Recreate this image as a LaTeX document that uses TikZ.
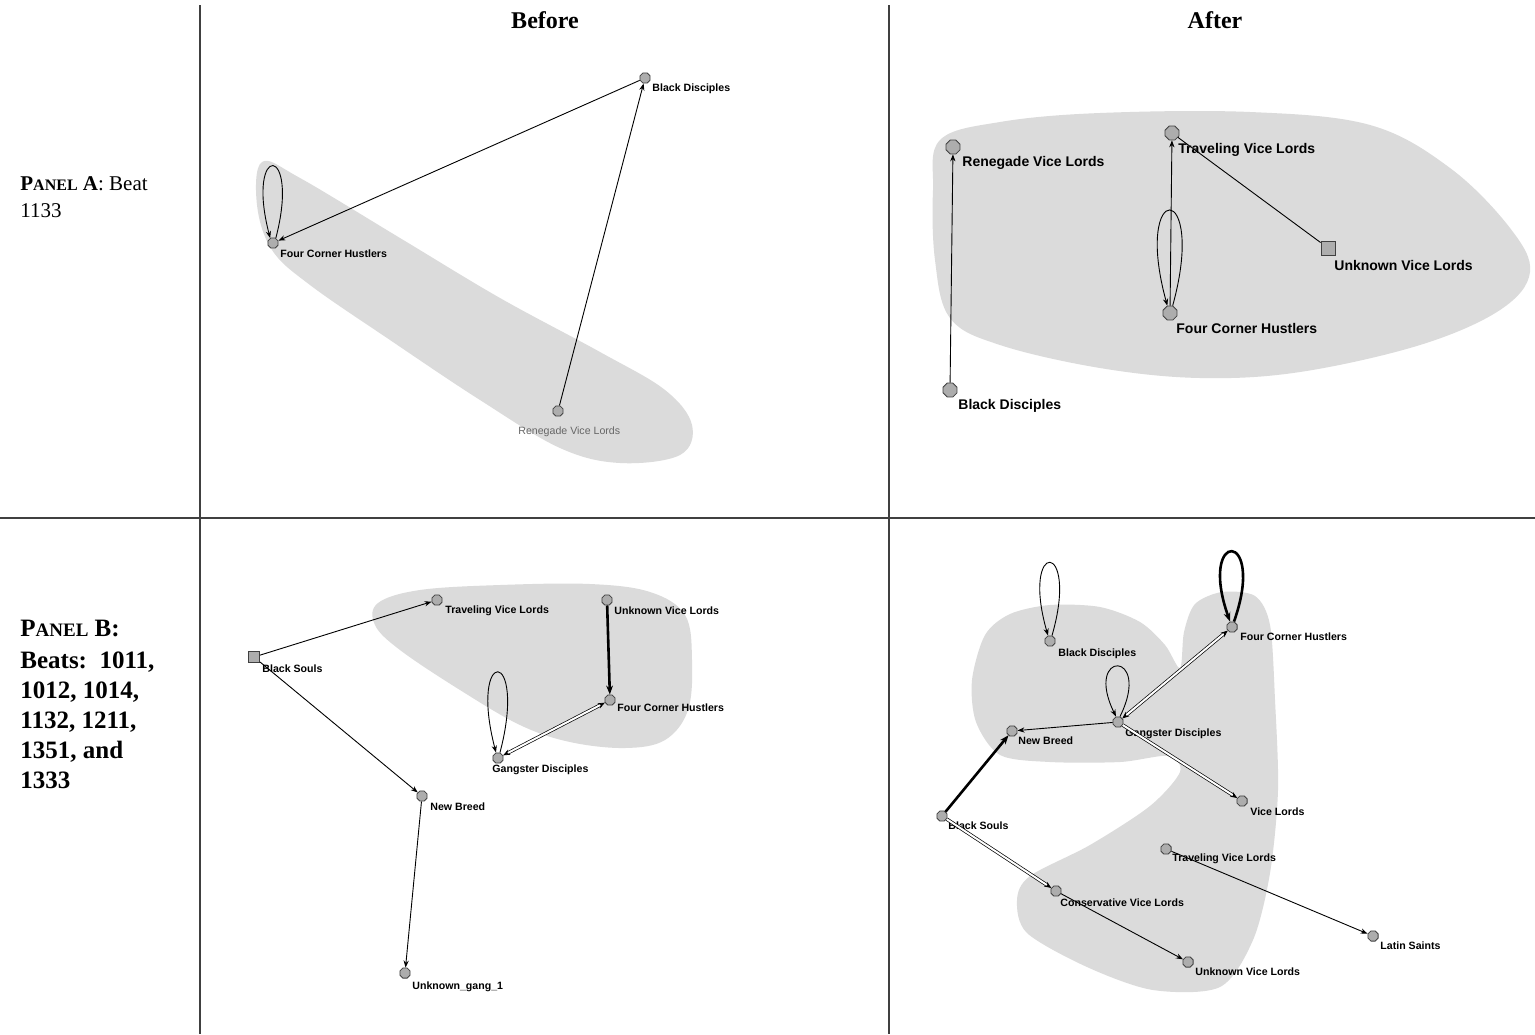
\documentclass[tikz,border=0pt]{standalone}
\usepackage{fontspec}
\setmainfont{Liberation Serif}
\newfontfamily\labfont{Liberation Sans}
\usetikzlibrary{arrows.meta,shapes.geometric}
\begin{document}
\begin{tikzpicture}[x=0.5pt,y=-0.5pt,
  blob/.style={fill=black!14},
  gn/.style={regular polygon, regular polygon sides=8, draw=black!75, fill=black!32, inner sep=0pt, minimum size=#1, line width=0.4pt},
  gn/.default=5.5pt,
  sqn/.style={rectangle, draw=black!75, fill=black!32, inner sep=0pt, minimum size=#1, line width=0.4pt},
  sqn/.default=6pt,
  lab/.style={anchor=west, inner sep=0pt, font=\labfont\bfseries\fontsize{5.3}{6}\selectfont},
  labbig/.style={anchor=west, inner sep=0pt, font=\labfont\bfseries\fontsize{7}{8}\selectfont},
  arr/.style={-{Stealth[length=3.5pt,width=2.6pt]}, line width=0.45pt},
  thk/.style={-{Stealth[length=4.5pt,width=3.4pt]}, line width=1.3pt},
  dbl/.style={{Stealth[length=3.5pt,width=2.8pt]}-{Stealth[length=3.5pt,width=2.8pt]}, double=white, double distance=1pt, line width=0.35pt},
  dbla/.style={-{Stealth[length=3.5pt,width=2.8pt]}, double=white, double distance=1pt, line width=0.35pt},
  tline/.style={draw=black!75, line width=0.7pt},
  hdr/.style={font=\bfseries\fontsize{12}{14}\selectfont, inner sep=0pt},
  pa/.style={anchor=base west, inner sep=0pt, font=\fontsize{10.5}{12}\selectfont},
  pb/.style={anchor=base west, inner sep=0pt, font=\bfseries\fontsize{12.5}{14}\selectfont}
]
\useasboundingbox (0,0) rectangle (1535,1034);
\fill[white] (0,0) rectangle (1535,1034);

% ---------- blobs ----------
\fill[blob] plot[smooth cycle, tension=0.6] coordinates {(262,162) (300,178) (400,238) (500,298) (600,352) (665,390) (692,425) (680,455) (620,463) (560,448) (480,400) (390,340) (310,285) (272,250) (257,205)};
\fill[blob] plot[smooth cycle, tension=0.6] coordinates {(940,140) (1000,122) (1100,113) (1250,112) (1370,125) (1450,168) (1510,228) (1530,272) (1500,310) (1420,345) (1300,372) (1200,378) (1100,368) (1000,345) (950,318) (935,260) (933,190)};
\fill[blob] plot[smooth cycle, tension=0.6] coordinates {(378,603) (420,590) (500,585) (590,584) (650,592) (685,615) (692,660) (688,710) (665,740) (625,748) (570,742) (520,725) (460,690) (400,650) (375,625)};
\fill[blob] plot[smooth cycle, tension=0.5] coordinates {(985,635) (1010,614) (1050,605) (1100,607) (1140,622) (1165,645) (1180,668) (1184,632) (1195,604) (1222,592) (1255,596) (1270,625) (1275,700) (1278,790) (1270,873) (1253,940) (1220,987) (1153,990) (1087,967) (1027,933) (1017,900) (1030,876) (1090,845) (1150,806) (1180,772) (1168,756) (1120,762) (1050,762) (1000,755) (976,722) (972,680)};

% ---------- table ----------
\draw[tline] (200,5) -- (200,1034);
\draw[tline] (889,5) -- (889,1034);
\draw[tline] (0,518) -- (1535,518);

\node[hdr] (hbefore) at (545,20) {Before};
\node[hdr] (hafter) at (1215,20) {After};

\node[pa] (pa1) at (20,190) {\textbf{P{\fontsize{8}{10}\selectfont ANEL} A}: Beat};
\node[pa] (pa2) at (20,217) {1133};

\node[pb] (pb1) at (20,636) {P{\fontsize{9.5}{12}\selectfont ANEL} B:};
\node[pb] (pb2) at (20,668) {Beats:\ \ 1011,};
\node[pb] (pb3) at (20,698) {1012, 1014,};
\node[pb] (pb4) at (20,728) {1132, 1211,};
\node[pb] (pb5) at (20,758) {1351, and};
\node[pb] (pb6) at (20,788) {1333};

% ---------- Panel A before ----------
\node[gn] (bd1) at (645,78) {};
\node[gn] (fch1) at (273,243) {};
\node[gn] (rvl1) at (558,411) {};
\node[lab] (bd1l) at (652,89) {Black Disciples};
\node[lab] (fch1l) at (280,254) {Four Corner Hustlers};
\node[anchor=west, inner sep=0pt, text=black!60, font=\labfont\fontsize{5.3}{6}\selectfont] (rvl1l) at (518,432) {Renegade Vice Lords};
\draw[arr] (bd1) -- (fch1);
\draw[arr] (rvl1) -- (bd1);
\draw[arr] (fch1.60) .. controls +(25,-96) and +(-25,-96) .. (fch1.120);

% ---------- Panel A after ----------
\node[gn=7.5pt] (rvl2) at (953,147) {};
\node[gn=7.5pt] (bd2) at (950,390) {};
\node[gn=7.5pt] (tvl2) at (1172,133) {};
\node[gn=7.5pt] (fch2) at (1170,313) {};
\node[sqn=7pt] (uvl2) at (1328,248) {};
\node[labbig] (rvl2l) at (962,163) {Renegade Vice Lords};
\node[labbig] (bd2l) at (958,406) {Black Disciples};
\node[labbig] (tvl2l) at (1178,150) {Traveling Vice Lords};
\node[labbig] (fch2l) at (1176,328) {Four Corner Hustlers};
\node[labbig] (uvl2l) at (1334,265) {Unknown Vice Lords};
\draw[arr] (bd2) -- (rvl2);
\draw[arr] (fch2) -- (tvl2);
\draw[line width=0.45pt] (uvl2) -- (tvl2);
\draw[arr] (fch2.70) .. controls +(35,-127) and +(-35,-127) .. (fch2.110);

% ---------- Panel B before ----------
\node[gn] (tvl3) at (437,600) {};
\node[gn] (uvl3) at (607,600) {};
\node[sqn=5.5pt] (bs3) at (254,657) {};
\node[gn] (fch3) at (610,700) {};
\node[gn] (gd3) at (498,758) {};
\node[gn] (nb3) at (422,796) {};
\node[gn] (ug3) at (405,973) {};
\node[lab] (tvl3l) at (445,611) {Traveling Vice Lords};
\node[lab] (uvl3l) at (614,611) {Unknown Vice Lords};
\node[lab] (bs3l) at (262,669) {Black Souls};
\node[lab] (fch3l) at (617,708) {Four Corner Hustlers};
\node[lab] (gd3l) at (492,770) {Gangster Disciples};
\node[lab] (nb3l) at (430,807) {New Breed};
\node[lab] (ug3l) at (412,987) {Unknown\_gang\_1};
\draw[arr] (bs3) -- (tvl3);
\draw[arr] (bs3) -- (nb3);
\draw[arr] (nb3) -- (ug3);
\draw[thk] (uvl3) -- (fch3);
\draw[dbl] (fch3) -- (gd3);
\draw[arr] (gd3.70) .. controls +(28,-107) and +(-28,-107) .. (gd3.110);

% ---------- Panel B after ----------
\node[gn] (bd4) at (1050,641) {};
\node[gn] (fch4) at (1232,627) {};
\node[gn] (gd4) at (1118,722) {};
\node[gn] (nb4) at (1012,731) {};
\node[gn] (bs4) at (942,816) {};
\node[gn] (vl4) at (1242,801) {};
\node[gn] (tvl4) at (1166,849) {};
\node[gn] (cvl4) at (1056,891) {};
\node[gn] (uvl4) at (1188,962) {};
\node[gn] (ls4) at (1373,936) {};
\node[lab] (bd4l) at (1058,654) {Black Disciples};
\node[lab] (fch4l) at (1240,637) {Four Corner Hustlers};
\node[lab] (gd4l) at (1125,734) {Gangster Disciples};
\node[lab] (nb4l) at (1018,741) {New Breed};
\node[lab] (bs4l) at (948,826) {Black Souls};
\node[lab] (vl4l) at (1250,812) {Vice Lords};
\node[lab] (tvl4l) at (1172,859) {Traveling Vice Lords};
\node[lab] (cvl4l) at (1060,903) {Conservative Vice Lords};
\node[lab] (uvl4l) at (1195,972) {Unknown Vice Lords};
\node[lab] (ls4l) at (1380,946) {Latin Saints};
\draw[dbl] (gd4) -- (fch4);
\draw[arr] (gd4) -- (nb4);
\draw[thk] (bs4) -- (nb4);
\draw[dbla] (gd4) -- (vl4);
\draw[dbla] (bs4) -- (cvl4);
\draw[arr] (cvl4) -- (uvl4);
\draw[arr] (tvl4) -- (ls4);
\draw[arr] (bd4.70) .. controls +(28,-97) and +(-28,-97) .. (bd4.110);
\draw[thk] (fch4.70) .. controls +(33,-93) and +(-33,-93) .. (fch4.110);
\draw[arr] (gd4.70) .. controls +(33,-67) and +(-33,-67) .. (gd4.110);
\end{tikzpicture}
\end{document}
